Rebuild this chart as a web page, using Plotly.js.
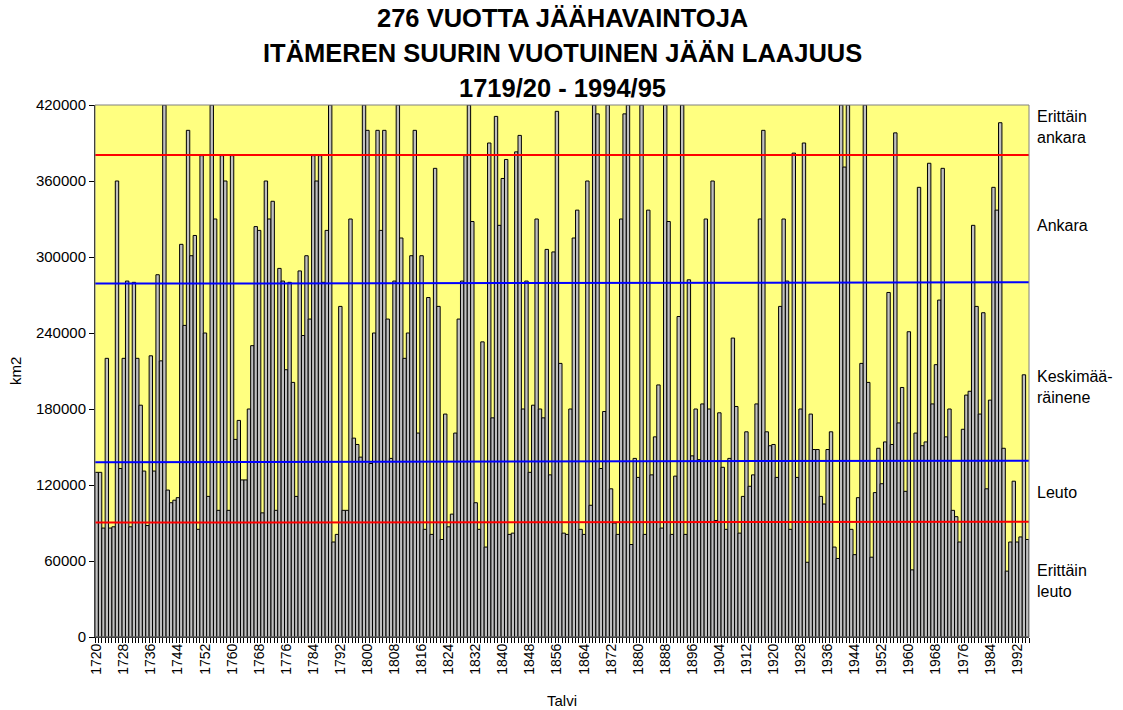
<!DOCTYPE html>
<html>
<head>
<meta charset="utf-8">
<script src="https://cdn.plot.ly/plotly-3.0.1.min.js"></script>
<style>html,body{margin:0;padding:0;background:#fff;}#chart{width:1123px;height:710px;}</style>
</head>
<body>
<div id="chart"></div>
<script>
// Winters 1719/20 ... 1994/95, labelled by the spring year
const firstWinter = 1720;
// Maximum annual ice extent of the Baltic Sea, km2
const iceExtent = [
  130000,130000,86000,220000,86000,87000,360000,133000,220000,281000,
  87000,280000,220000,183000,131000,88000,222000,131000,286000,218000,
  420000,116000,106000,108000,110000,310000,246000,400000,301000,317000,
  85000,380000,240000,111000,420000,330000,100000,380000,360000,100000,
  380000,156000,171000,124000,124000,180000,230000,324000,321000,98000,
  360000,330000,344000,100000,291000,281000,211000,280000,201000,111000,
  289000,238000,301000,251000,380000,360000,380000,280000,321000,420000,
  75000,81000,261000,100000,100000,330000,157000,152000,142000,420000,
  400000,137000,240000,400000,321000,400000,251000,141000,281000,420000,
  315000,220000,240000,301000,400000,161000,301000,85000,268000,81000,
  370000,261000,77000,176000,87000,97000,161000,251000,281000,380000,
  420000,328000,106000,85000,233000,71000,390000,173000,411000,325000,
  362000,377000,81000,82000,383000,396000,180000,281000,130000,183000,
  330000,180000,173000,306000,128000,304000,415000,216000,82000,81000,
  180000,315000,337000,85000,81000,360000,104000,420000,413000,133000,
  178000,420000,117000,90000,81000,330000,413000,420000,73000,141000,
  126000,420000,81000,337000,128000,158000,199000,86000,420000,328000,
  81000,127000,253000,420000,81000,282000,143000,180000,140000,184000,
  330000,180000,360000,92000,177000,134000,85000,141000,236000,182000,
  82000,111000,162000,119000,128000,184000,330000,400000,162000,151000,
  152000,126000,261000,330000,281000,85000,382000,126000,180000,390000,
  59000,176000,148000,148000,111000,105000,148000,162000,71000,62000,
  420000,371000,420000,85000,65000,110000,216000,420000,201000,63000,
  114000,149000,121000,154000,272000,152000,398000,169000,197000,115000,
  241000,53000,161000,355000,151000,154000,374000,184000,215000,266000,
  370000,158000,180000,100000,95000,75000,164000,191000,194000,325000,
  261000,176000,256000,117000,187000,355000,337000,406000,149000,52000,
  75000,123000,75000,79000,207000,77000
];
const winters = iceExtent.map((_, i) => firstWinter + i);

const xTickLabels = ['1720','1728','1736','1744','1752','1760','1768','1776','1784','1792',
  '1800','1808','1816','1824','1832','1840','1848','1856','1864','1872','1880','1888',
  '1896','1904','1912','1920','1928','1936','1944','1952','1960','1968','1976','1984','1992'];
const yTickValues = [0,60000,120000,180000,240000,300000,360000,420000];

// Class limits (horizontal reference lines), left and right end values
const limitStart = [380500, 279000, 138000, 90300];
const limitEnd   = [380500, 280000, 139200, 91000];
const limitColors = ['#FF0000', '#0000FF', '#0000FF', '#FF0000'];

const classLabels = ['Erittäin<br>ankara', 'Ankara', 'Keskimää-<br>räinene', 'Leuto', 'Erittäin<br>leuto'];
const classLabelPix = [127, 226, 387, 492, 581];

const titleLines = ['276 VUOTTA JÄÄHAVAINTOJA', 'ITÄMEREN SUURIN VUOTUINEN JÄÄN LAAJUUS', '1719/20 - 1994/95'];
const titleLinePix = [18, 53, 88];

// ---- layout helpers (pixel geometry of the plot area) ----
const W = 1123, H = 710, L = 95, R = 94, T = 105, B = 73;
const plotW = W - L - R, plotH = H - T - B;
const px = p => (p - L) / plotW;
const py = p => (H - B - p) / plotH;
const FONT = 'Liberation Sans, Arial, sans-serif';

const trace = {
  type: 'bar',
  x: winters,
  y: iceExtent,
  width: 1,
  marker: { color: '#C0C0C0', line: { color: '#000000', width: 1 } },
  hoverinfo: 'x+y'
};

const shapes = limitStart.map((v, i) => ({
  type: 'line', xref: 'paper', yref: 'y', x0: 0, x1: 1, y0: v, y1: limitEnd[i],
  line: { color: limitColors[i], width: 2 }, layer: 'above'
}));
shapes.push({ type: 'rect', xref: 'paper', yref: 'paper', x0: 0, x1: 1, y0: 0, y1: 1,
  line: { color: '#808080', width: 1 }, layer: 'above' });

const annotations = [];
titleLines.forEach((t, i) => annotations.push({
  text: '<b>' + t + '</b>', xref: 'paper', yref: 'paper', x: 0.5, y: py(titleLinePix[i]),
  xanchor: 'center', yanchor: 'middle', showarrow: false,
  font: { family: FONT, size: 25.5, color: '#000' }
}));
classLabels.forEach((t, i) => annotations.push({
  text: t, xref: 'paper', yref: 'paper', x: px(1035), y: py(classLabelPix[i]),
  xanchor: 'left', yanchor: 'middle', align: 'left', showarrow: false,
  font: { family: FONT, size: 16, color: '#000' }
}));
annotations.push({ text: 'km2', xref: 'paper', yref: 'paper', x: px(15), y: py(371),
  xanchor: 'center', yanchor: 'middle', textangle: -90, showarrow: false,
  font: { family: FONT, size: 15, color: '#000' } });
annotations.push({ text: 'Talvi', xref: 'paper', yref: 'paper', x: 0.5, y: py(700),
  xanchor: 'center', yanchor: 'middle', showarrow: false,
  font: { family: FONT, size: 15, color: '#000' } });

const layout = {
  width: W, height: H,
  margin: { l: L, r: R, t: T, b: B, pad: 0 },
  paper_bgcolor: '#FFFFFF',
  plot_bgcolor: '#FFFF80',
  showlegend: false,
  bargap: 0,
  xaxis: {
    type: 'linear',
    range: [firstWinter - 0.5, firstWinter + iceExtent.length - 0.5],
    tickmode: 'array',
    tickvals: xTickLabels.map(Number),
    ticktext: xTickLabels,
    tickangle: -90,
    ticks: '',
    showgrid: false, zeroline: false,
    showline: true, linecolor: '#000', linewidth: 1,
    tickfont: { family: FONT, size: 14, color: '#000' },
    minor: { tick0: firstWinter - 0.5, dtick: 1, ticks: 'outside', ticklen: 5, tickcolor: '#000', tickwidth: 1, showgrid: false }
  },
  yaxis: {
    range: [0, 420000],
    tickmode: 'array',
    tickvals: yTickValues,
    ticktext: yTickValues.map(String),
    ticks: 'outside', ticklen: 5, tickcolor: '#000',
    showgrid: false, zeroline: false,
    showline: true, linecolor: '#000', linewidth: 1,
    tickfont: { family: FONT, size: 15, color: '#000' }
  },
  shapes: shapes,
  annotations: annotations
};

Plotly.newPlot('chart', [trace], layout, { staticPlot: true, displayModeBar: false });
</script>
</body>
</html>
